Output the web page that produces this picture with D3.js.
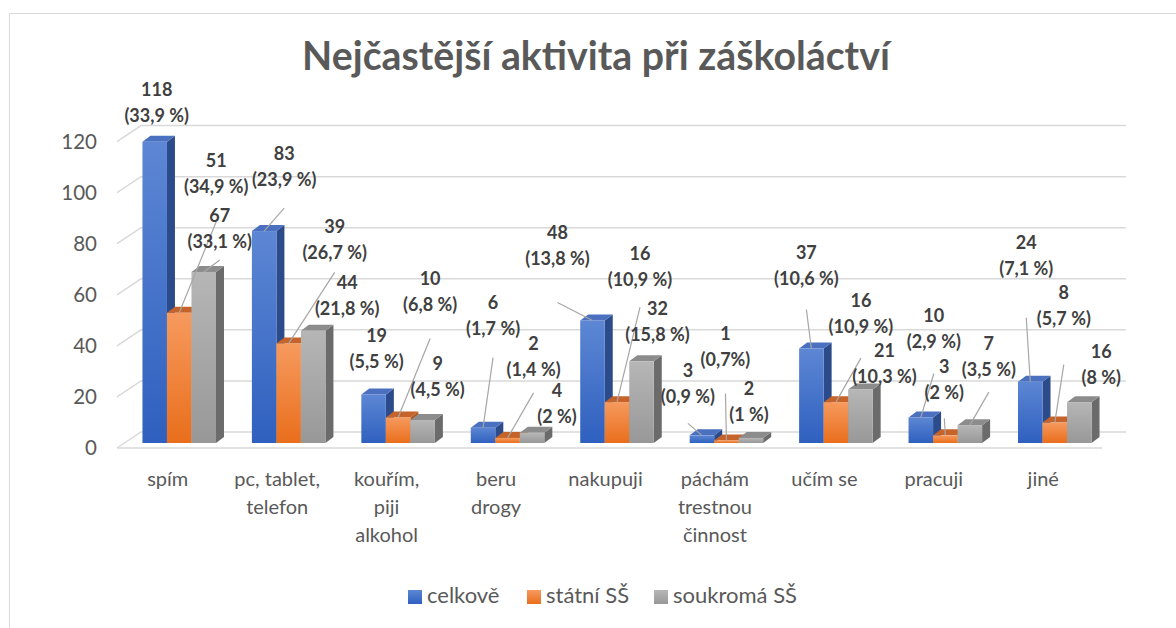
<!DOCTYPE html>
<html lang="cs">
<head>
<meta charset="UTF-8">
<title>Nejčastější aktivita při záškoláctví</title>
<style>
  body { margin: 0; background: #fff; }
  text { font-family: Lato, "Open Sans", sans-serif; }
</style>
</head>
<body>
<script src="https://d3js.org/d3.v7.min.js"></script>
<script>
const categories = ["spím", "pc, tablet, telefon", "kouřím, piji alkohol", "beru drogy", "nakupuji",
                    "páchám trestnou činnost", "učím se", "pracuji", "jiné"];
const seriesNames = ["celkově", "státní SŠ", "soukromá SŠ"];
const celkove = [118, 83, 19, 6, 48, 3, 37, 10, 24];
const statni = [51, 39, 10, 2, 16, 1, 16, 3, 8];
const soukroma = [67, 44, 9, 4, 32, 2, 21, 7, 16];
const celkovePct = ["33,9 %", "23,9 %", "5,5 %", "1,7 %", "13,8 %", "0,9 %", "10,6 %", "2,9 %", "7,1 %"];
const statniPct = ["34,9 %", "26,7 %", "6,8 %", "1,4 %", "10,9 %", "0,7%", "10,9 %", "2 %", "5,7 %"];
const soukromaPct = ["33,1 %", "21,8 %", "4,5 %", "2 %", "15,8 %", "1 %", "10,3 %", "3,5 %", "8 %"];
const yTicks = [0, 20, 40, 60, 80, 100, 120];

// posun popisku od středu horní hrany sloupce [dx, dy, začátek vodicí čáry pod popiskem]
const labelOffsets = [
  [[2,-50,null],[20,-76,53],[3,-57,null],[10,-123,53],[-35,-86,68],[-14,-63,51],[-5,-94,55],[13,-100,56],[-4,-137,73]],
  [[37,-150,59],[46,-115,44],[32,-137,58],[26,-93,48],[23,-147,52],[-1,-105,58],[25,-100,56],[-1,-67,50],[9,-128,70]],
  [[16,-55,43],[34,-46,null],[15,-55,null],[25,-40,null],[16,-51,null],[-2,-48,null],[24,-37,null],[19,-80,47],[22,-49,null]]
];

const values = [celkove, statni, soukroma];
const pcts = [celkovePct, statniPct, soukromaPct];

const width = 1176, height = 628;
const plot = { left: 117, right: 1102, floor: 448 };
const depth = { x: 24, y: -16 };      // hloubka podlahy (zadní stěna)
const front = { x: 7.5, y: -5 };      // přední rovina sloupců
const barDepth = { x: 8, y: -6 };     // hloubka sloupce
const axisFont = 20.5, catFont = 20, legendFont = 22, labelFont = 18;

const colors = [
  { top: "#4a70bf", side: "#2c4b8a", g0: "#5d87d4", g1: "#2f60bf" },
  { top: "#c5632a", side: "#b0581d", g0: "#f69a5e", g1: "#e96e1c" },
  { top: "#8c8c8c", side: "#6b6b6b", g0: "#b6b6b6", g1: "#989898" }
];

const svg = d3.select('body').append('svg').attr('width', width).attr('height', height);

const defs = svg.append('defs');
colors.forEach((c, i) => {
  const g = defs.append('linearGradient').attr('id', 'grad' + i)
    .attr('x1', 0).attr('y1', 0).attr('x2', 0).attr('y2', 1);
  g.append('stop').attr('offset', '0%').attr('stop-color', c.g0);
  g.append('stop').attr('offset', '100%').attr('stop-color', c.g1);
});

// rámeček grafu
svg.append('rect').attr('x', 9.5).attr('y', 13.5).attr('width', 1300).attr('height', 800)
  .attr('fill', 'none').attr('stroke', '#d9d9d9');

// titulek
const title = svg.append('text')
  .attr('x', 596).attr('y', 60).attr('text-anchor', 'middle').attr('dominant-baseline', 'middle')
  .attr('font-size', 32).attr('font-weight', 'bold').attr('fill', '#595959')
  .text('Nejčastější aktivita při záškoláctví');
const tw = title.node().getComputedTextLength();
title.attr('font-size', 32 * 588 / tw);

// měřítka
const xScale = d3.scaleBand().domain(d3.range(categories.length)).range([plot.left, plot.right]);
const bw = xScale.bandwidth();
const groupW = bw * 0.672;
const xInner = d3.scaleBand().domain(d3.range(seriesNames.length)).range([0, groupW]);
const yScale = d3.scaleLinear().domain([0, 120]).range([plot.floor, plot.floor - 306.4]);

// mřížka: boční stěna + zadní stěna
const grid = svg.append('g').attr('stroke', '#d9d9d9').attr('stroke-width', 1.5).attr('fill', 'none');
yTicks.forEach(t => {
  const y = yScale(t);
  grid.append('polyline').attr('points', [
    [plot.left, y], [plot.left + depth.x, y + depth.y], [plot.right + depth.x, y + depth.y]
  ].join(' '));
});
grid.append('line').attr('x1', plot.left).attr('x2', plot.right)
  .attr('y1', plot.floor).attr('y2', plot.floor);

// osa Y
svg.append('g').selectAll('text').data(yTicks).join('text')
  .attr('x', 97).attr('y', d => yScale(d) + 2)
  .attr('text-anchor', 'end').attr('dominant-baseline', 'middle')
  .attr('font-size', axisFont).attr('fill', '#595959').text(d => d);

// popisky kategorií se zalamováním
const catG = svg.append('g');
categories.forEach((c, i) => {
  const t = catG.append('text').attr('text-anchor', 'middle').attr('font-size', catFont).attr('fill', '#595959');
  const words = c.split(' ');
  let lines = [], cur = '';
  const probe = catG.append('text').attr('font-size', catFont);
  words.forEach(w => {
    const test = cur ? cur + ' ' + w : w;
    probe.text(test);
    if (cur && probe.node().getComputedTextLength() > catFont * 4.6) { lines.push(cur); cur = w; } else cur = test;
  });
  lines.push(cur);
  probe.remove();
  const cx = xScale(i) + bw / 2 - 4;
  lines.forEach((l, k) => {
    t.append('tspan').attr('x', cx).attr('y', 481 + k * 28).attr('dominant-baseline', 'middle').text(l);
  });
});

// sloupce
function barGeom(i, s) {
  const x = xScale(i) + (bw - groupW) / 2 + xInner(s) + front.x;
  const w = xInner.bandwidth();
  const y0 = yScale(0) + front.y;
  const y1 = yScale(values[s][i]) + front.y;
  return { x, w, y0, y1 };
}

const bars = svg.append('g');
categories.forEach((c, i) => {
  seriesNames.forEach((n, s) => {
    const b = barGeom(i, s);
    const col = colors[s];
    const dx = barDepth.x, dy = barDepth.y;
    bars.append('polygon').attr('fill', col.side).attr('points', [
      [b.x + b.w, b.y1], [b.x + b.w + dx, b.y1 + dy], [b.x + b.w + dx, b.y0 + dy], [b.x + b.w, b.y0]
    ].join(' '));
    bars.append('polygon').attr('fill', col.top).attr('points', [
      [b.x, b.y1], [b.x + dx, b.y1 + dy], [b.x + b.w + dx, b.y1 + dy], [b.x + b.w, b.y1]
    ].join(' '));
    bars.append('rect').attr('x', b.x).attr('y', b.y1).attr('width', b.w).attr('height', b.y0 - b.y1)
      .attr('fill', `url(#grad${s})`);
  });
});

// datové popisky s vodicími čarami
const labels = svg.append('g');
seriesNames.forEach((n, s) => {
  categories.forEach((c, i) => {
    const b = barGeom(i, s);
    const bx = b.x + b.w / 2, by = b.y1;
    const [ox, oy, lead] = labelOffsets[s][i];
    const lx = bx + ox, ly = by + oy;
    if (lead !== null) {
      labels.append('line').attr('x1', lx).attr('y1', ly + lead).attr('x2', bx).attr('y2', by)
        .attr('stroke', '#a6a6a6').attr('stroke-width', 1.2);
    }
    const t = labels.append('text').attr('text-anchor', 'middle').attr('font-size', labelFont)
      .attr('font-weight', 'bold').attr('fill', '#404040');
    t.append('tspan').attr('x', lx).attr('y', ly).attr('dominant-baseline', 'middle').text(values[s][i]);
    t.append('tspan').attr('x', lx).attr('y', ly + 26).attr('dominant-baseline', 'middle').text('(' + pcts[s][i] + ')');
  });
});

// legenda
const legendX = [408, 527, 654];
const legend = svg.append('g');
seriesNames.forEach((n, s) => {
  legend.append('rect').attr('x', legendX[s]).attr('y', 590).attr('width', 14).attr('height', 14)
    .attr('fill', `url(#grad${s})`);
  legend.append('text').attr('x', legendX[s] + 19).attr('y', 597).attr('dominant-baseline', 'middle')
    .attr('font-size', legendFont).attr('fill', '#595959').text(n);
});
</script>
</body>
</html>
